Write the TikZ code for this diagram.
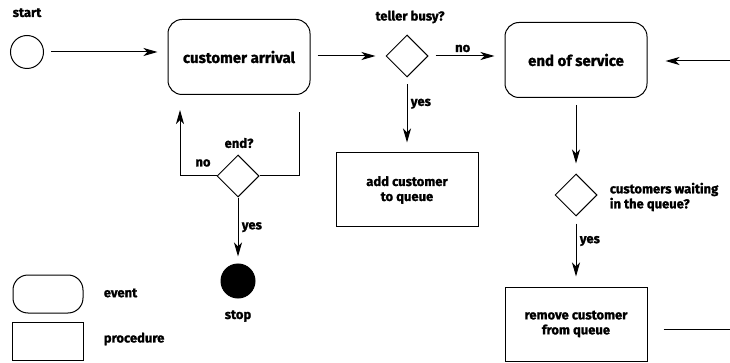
\documentclass[tikz,border=0pt]{standalone}
\usepackage{fontspec}
\setmainfont{Fira Sans}[BoldFeatures={FakeBold=1.2}]
\usetikzlibrary{arrows.meta,shapes.geometric,positioning}

\begin{document}
\begin{tikzpicture}[x=1pt,y=-1pt,line width=1pt,
    font=\bfseries\fontsize{13}{15}\selectfont,
    event/.style={draw,rounded corners=14pt,minimum width=142pt,minimum height=75pt,
      font=\bfseries\fontsize{15}{17}\selectfont},
    proc/.style={draw,minimum width=142pt,minimum height=74pt,align=center},
    decision/.style={draw,diamond,inner sep=0pt,minimum width=42pt,minimum height=42pt},
    flow/.style={-{Stealth[length=14pt,width=8pt,inset=4pt]},shorten <=7pt,shorten >=10pt}]
  \useasboundingbox (0,0) rectangle (730,363);
  \node[draw,circle,minimum size=33pt,inner sep=0pt] (start) at (27,52) {};
  \node[above=14pt of start] (startlbl) {start};
  \node[event] (arrival) at (239,57) {customer arrival};
  \node[decision] (teller) at (407,56) {};
  \node (tellerlbl) at (410,17) {teller busy?};
  \node[event] (service) at (576,60) {end of service};
  \node[proc] (add) at (407,190) {add customer\\to queue};
  \node[decision] (endq) at (238,176) {};
  \node (endlbl) at (239,143) {end?};
  \node[draw,circle,fill=black,minimum size=34pt,inner sep=0pt] (stop) at (238,281) {};
  \node[below=8pt of stop] (stoplbl) {stop};
  \node[decision] (waiting) at (576,195) {};
  \node[anchor=west,align=left] (waitlbl) at (606,197) {customers waiting\\in the queue?};
  \node[proc] (remove) at (576,324) {remove customer\\from queue};
  \node[draw,rounded corners=15pt,minimum width=70pt,minimum height=38pt] (evkey) at (48,294) {};
  \node[anchor=west] (evlbl) at (100,293) {event};
  \node[draw,minimum width=71pt,minimum height=38pt] (prkey) at (48,341) {};
  \node[anchor=west] (prlbl) at (100,339) {procedure};
  \node (no2lbl) at (203,163) {no};
  \coordinate (fromright) at (730,61);
  \coordinate (toright) at (730,329);
  \coordinate (loopup) at (180,110);
  \coordinate (loopend) at (299,112);
  \draw[flow] (start.east) -- (start.east -| arrival.west);
  \draw[flow] (arrival.east |- teller) -- (teller.west);
  \draw[flow] (teller.east) -- node[above,pos=0.45] (nolbl) {no} (teller.east -| service.west);
  \draw[flow,shorten <=0pt,shorten >=18pt] (fromright) -- (fromright -| service.east);
  \draw[flow] (teller) -- node[right,pos=0.35] (yeslbl) {yes} (add);
  \draw[flow] (service) -- (waiting);
  \draw[flow] (waiting) -- node[right,pos=0.35] (yes2lbl) {yes} (remove);
  \draw[flow,shorten <=0pt,shorten >=0pt] (endq.west) -| (loopup);
  \draw (endq.east) -| (loopend);
  \draw[flow,shorten <=0pt,shorten >=7pt] (endq) -- node[right,pos=0.45] (yes3lbl) {yes} (stop);
  \draw[shorten <=16pt] (remove.east |- toright) -- (toright);
\end{tikzpicture}
\end{document}
